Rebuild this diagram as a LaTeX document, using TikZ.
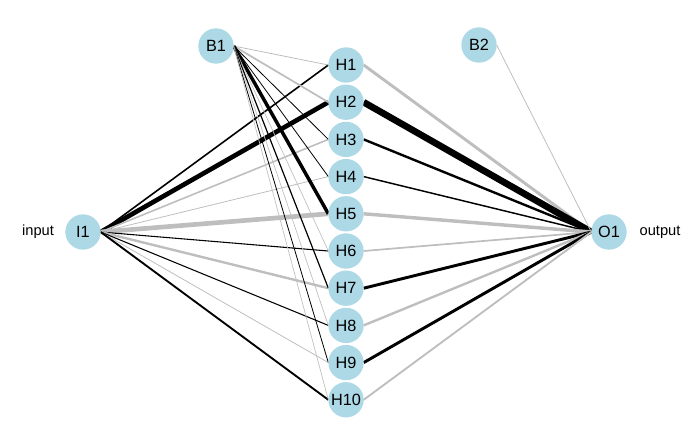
\documentclass[tikz,border=0pt]{standalone}
\usepackage{fontspec}
\setmainfont{Liberation Sans}
\usetikzlibrary{positioning, backgrounds}
\definecolor{nodeblue}{RGB}{173,216,230}
\definecolor{negwtgrey}{RGB}{190,190,190}
\tikzset{
  neuron/.style={circle, fill=nodeblue, inner sep=0pt, outer sep=0pt,
    minimum size=26.5pt, font=\fontsize{12.2}{13}\selectfont},
  lyrlabel/.style={font=\fontsize{11}{12}\selectfont},
  poswt/.style={draw=black, line width=#1},
  negwt/.style={draw=negwtgrey, line width=#1}
}

\begin{document}
\begin{tikzpicture}[x=0.75pt, y=-0.75pt]
  \useasboundingbox (0,0) rectangle (699,446);

  % input and bias layers
  \node[neuron] (in1) at (83,232) {I1};
  \node[lyrlabel] (inlbl) at (38,232) {input};
  \node[neuron] (bias1) at (216,46) {B1};
  \node[neuron] (bias2) at (479,45) {B2};

  % hidden layer
  \node[neuron] (hid1) at (346,65) {H1};
  \node[neuron, below=1.4pt of hid1] (hid2) {H2};
  \node[neuron, below=1.4pt of hid2] (hid3) {H3};
  \node[neuron, below=1.4pt of hid3] (hid4) {H4};
  \node[neuron, below=1.4pt of hid4] (hid5) {H5};
  \node[neuron, below=1.4pt of hid5] (hid6) {H6};
  \node[neuron, below=1.4pt of hid6] (hid7) {H7};
  \node[neuron, below=1.4pt of hid7] (hid8) {H8};
  \node[neuron, below=1.4pt of hid8] (hid9) {H9};
  \node[neuron, below=1.4pt of hid9] (hid10) {H10};

  % output layer
  \node[neuron] (out1) at (609,232) {O1};
  \node[lyrlabel] (outlbl) at (660,232) {output};

  \begin{scope}[on background layer]
  % input to hidden
  \draw[poswt=1.2pt] (in1.east)--(hid1.west);
  \draw[poswt=3.5pt] (in1.east)--(hid2.west);
  \draw[negwt=1.2pt] (in1.east)--(hid3.west);
  \draw[negwt=0.6pt] (in1.east)--(hid4.west);
  \draw[negwt=3.5pt] (in1.east)--(hid5.west);
  \draw[poswt=0.8pt] (in1.east)--(hid6.west);
  \draw[negwt=1.8pt] (in1.east)--(hid7.west);
  \draw[poswt=0.8pt] (in1.east)--(hid8.west);
  \draw[negwt=0.6pt] (in1.east)--(hid9.west);
  \draw[poswt=1.4pt] (in1.east)--(hid10.west);

  % bias to hidden
  \draw[negwt=0.6pt] (bias1.east)--(hid1.west);
  \draw[negwt=1.3pt] (bias1.east)--(hid2.west);
  \draw[poswt=0.6pt] (bias1.east)--(hid3.west);
  \draw[poswt=0.6pt] (bias1.east)--(hid4.west);
  \draw[poswt=2.6pt] (bias1.east)--(hid5.west);
  \draw[negwt=0.5pt] (bias1.east)--(hid6.west);
  \draw[poswt=0.9pt] (bias1.east)--(hid7.west);
  \draw[negwt=0.5pt] (bias1.east)--(hid8.west);
  \draw[poswt=0.6pt] (bias1.east)--(hid9.west);
  \draw[negwt=0.5pt] (bias1.east)--(hid10.west);

  % hidden to output
  \draw[negwt=2.2pt] (hid1.east)--(out1.west);
  \draw[poswt=5pt] (hid2.east)--(out1.west);
  \draw[poswt=1.8pt] (hid3.east)--(out1.west);
  \draw[poswt=1.1pt] (hid4.east)--(out1.west);
  \draw[negwt=2.6pt] (hid5.east)--(out1.west);
  \draw[negwt=1.3pt] (hid6.east)--(out1.west);
  \draw[poswt=2.2pt] (hid7.east)--(out1.west);
  \draw[negwt=1.8pt] (hid8.east)--(out1.west);
  \draw[poswt=2.2pt] (hid9.east)--(out1.west);
  \draw[negwt=1.4pt] (hid10.east)--(out1.west);
  \draw[negwt=0.6pt] (bias2.east)--(out1.west);
  \end{scope}
\end{tikzpicture}
\end{document}
